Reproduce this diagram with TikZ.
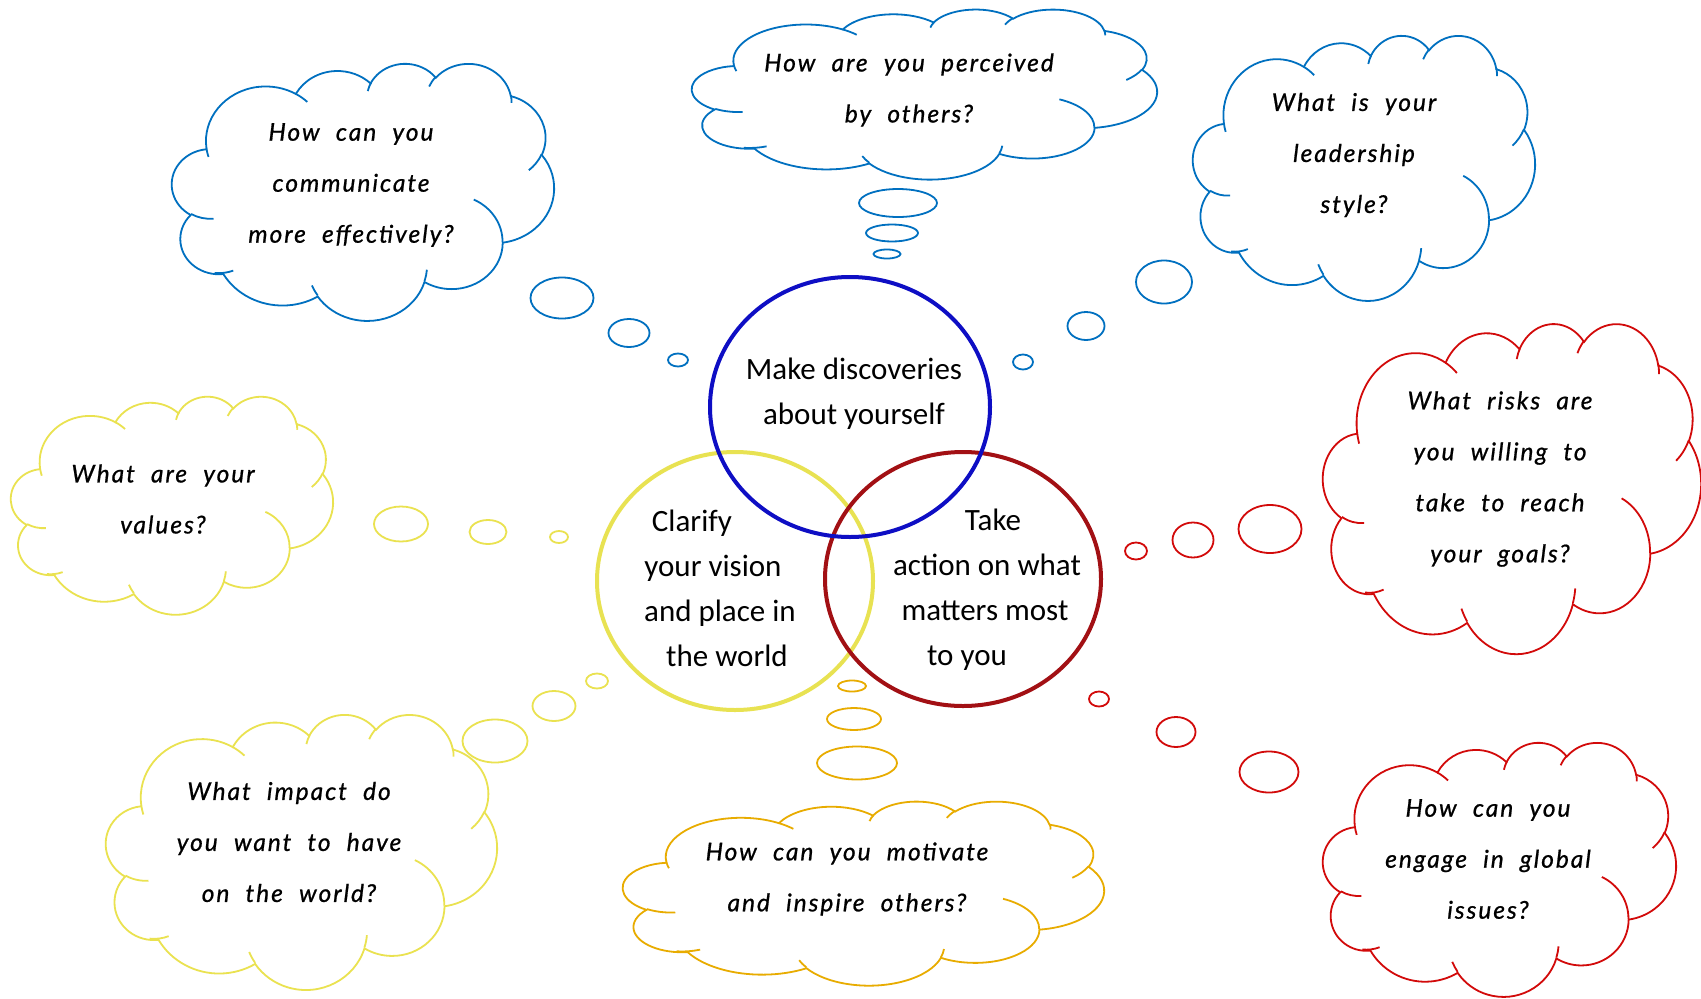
\documentclass[tikz,border=0pt]{standalone}
\usepackage{fontspec}
\setmainfont{Carlito}
\newfontfamily\hand[LetterSpace=8,WordSpace=2.1,FakeBold=0.8]{Lato}
\usetikzlibrary{shapes.geometric}
\definecolor{cblue}{RGB}{0,112,192}
\definecolor{cyel}{RGB}{234,226,80}
\definecolor{corange}{RGB}{232,172,0}
\definecolor{cred}{RGB}{210,10,10}
\definecolor{vblue}{RGB}{14,14,196}
\definecolor{vyel}{RGB}{232,226,82}
\definecolor{vred}{RGB}{162,16,20}
\newcommand\oa[4]{arc[x radius=#1,y radius=#2,start angle={atan2((#1)*sin(#3),(#2)*cos(#3))},delta angle={mod(atan2((#1)*sin((#3)+(#4)),(#2)*cos((#3)+(#4)))-atan2((#1)*sin(#3),(#2)*cos(#3))+720,360)}]}
\newcommand\ocloud[5]{%
\begin{scope}[shift={(#1,#2)},xscale=(#3)/43.2,yscale=(#4)/43.2]
\draw[cloudline,draw=#5,fill=white] (3.9,14.37) \oa{6.753}{9.19}{-190.4875}{123.7805} \oa{5.333}{7.267}{-144.1024}{89.9452} \oa{4.365}{5.945}{-145.8079}{99.723} \oa{4.857}{6.595}{-130.9861}{117.2417} \oa{5.333}{7.273}{-78.7089}{109.0269} \oa{6.775}{9.22}{-46.2673}{130.269} \oa{5.785}{7.867}{0.625}{114.0333} \oa{6.752}{9.215}{22.4516}{115.1726} \oa{7.72}{10.543}{66.2426}{75.711} \oa{4.36}{5.918}{-274.9421}{146.7356} \oa{4.345}{5.945}{-246.8285}{152.5189} -- cycle;
\draw[cloudline,draw=#5] (4.693,26.177) \oa{4.345}{5.945}{86.742}{26.4295} (6.928,34.899) \oa{4.36}{5.918}{73.6105}{21.1829} (16.478,39.09) \oa{6.752}{9.215}{137.6242}{13.7666} (28.827,34.751) \oa{6.752}{9.215}{6.4533}{15.9984} (34.129,22.954) \oa{5.785}{7.867}{-70.2924}{70.9174} (41.798,15.354) \oa{5.333}{7.273}{30.318}{27.7515} (38.324,5.426) \oa{4.857}{6.595}{-13.7443}{14.8589} (29.078,3.952) \oa{4.857}{6.595}{-149.1815}{18.1954} (22.141,4.72) \oa{4.365}{5.945}{-163.4943}{17.6864} (14,5.192) \oa{6.753}{9.19}{-66.707}{12.3194} (4.127,15.789) \oa{6.753}{9.19}{157.6544}{11.8582};
\end{scope}}
\tikzset{
 cloudline/.style={line width=1.8pt},
 qtext/.style={font=\hand\itshape\fontsize{24.5}{51}\selectfont,align=center,inner sep=0pt},
 vtext/.style={font=\fontsize{31}{45}\selectfont,align=center,inner sep=0pt},
 venn/.style={ellipse,line width=4pt,inner sep=0pt},
 bub/.style={ellipse,line width=1.8pt,inner sep=0pt,fill=white},
}
\begin{document}
\begin{tikzpicture}[x=1pt,y=-1pt]
\useasboundingbox (0,0) rectangle (1701,999);
\fill[white] (0,0) rectangle (1701,999);
% clouds
\ocloud{172}{63}{382}{257}{cblue}
\ocloud{692}{9}{465}{170}{cblue}
\ocloud{1193}{35}{342}{265}{cblue}
\ocloud{11}{396}{322}{218}{cyel}
\ocloud{1323}{323}{378}{330}{cred}
\ocloud{106}{714}{391}{275}{cyel}
\ocloud{623}{801}{481}{184}{corange}
\ocloud{1323}{742}{353}{254}{cred}
% bubbles
\node[bub,draw=cblue,minimum width=63pt,minimum height=41pt] (b1a) at (562,298) {};
\node[bub,draw=cblue,minimum width=41pt,minimum height=28pt] (b1b) at (629,333) {};
\node[bub,draw=cblue,minimum width=20pt,minimum height=13pt] (b1c) at (678,360) {};
\node[bub,draw=cblue,minimum width=78pt,minimum height=28pt] (b2a) at (898,203) {};
\node[bub,draw=cblue,minimum width=52pt,minimum height=17pt] (b2b) at (892,233) {};
\node[bub,draw=cblue,minimum width=27pt,minimum height=9pt] (b2c) at (887,254) {};
\node[bub,draw=cblue,minimum width=56pt,minimum height=43pt] (b3a) at (1164,282) {};
\node[bub,draw=cblue,minimum width=37pt,minimum height=28pt] (b3b) at (1086,326) {};
\node[bub,draw=cblue,minimum width=20pt,minimum height=15pt] (b3c) at (1023,362) {};
\node[bub,draw=cyel,minimum width=54pt,minimum height=35pt] (b4a) at (401,524) {};
\node[bub,draw=cyel,minimum width=37pt,minimum height=24pt] (b4b) at (488,532) {};
\node[bub,draw=cyel,minimum width=18pt,minimum height=12pt] (b4c) at (559,537) {};
\node[bub,draw=cred,minimum width=63pt,minimum height=48pt] (b5a) at (1270,529) {};
\node[bub,draw=cred,minimum width=41pt,minimum height=35pt] (b5b) at (1193,540) {};
\node[bub,draw=cred,minimum width=22pt,minimum height=17pt] (b5c) at (1136,551) {};
\node[bub,draw=cyel,minimum width=65pt,minimum height=43pt] (b6a) at (495,741) {};
\node[bub,draw=cyel,minimum width=43pt,minimum height=30pt] (b6b) at (554,706) {};
\node[bub,draw=cyel,minimum width=22pt,minimum height=15pt] (b6c) at (597,681) {};
\node[bub,draw=corange,minimum width=80pt,minimum height=33pt] (b7a) at (857,763) {};
\node[bub,draw=corange,minimum width=54pt,minimum height=22pt] (b7b) at (854,719) {};
\node[bub,draw=corange,minimum width=28pt,minimum height=11pt] (b7c) at (852,686) {};
\node[bub,draw=cred,minimum width=59pt,minimum height=41pt] (b8a) at (1269,772) {};
\node[bub,draw=cred,minimum width=39pt,minimum height=30pt] (b8b) at (1176,732) {};
\node[bub,draw=cred,minimum width=20pt,minimum height=15pt] (b8c) at (1099,699) {};
% venn circles
\node[venn,draw=vyel,minimum width=276pt,minimum height=258pt] (vY) at (735,581) {};
\node[venn,draw=vred,minimum width=276pt,minimum height=254pt] (vR) at (963,579) {};
\node[venn,draw=vblue,minimum width=280pt,minimum height=260pt] (vB) at (850,407) {};
% venn texts
\node[vtext] (tB) at (854,394) {Make discoveries\\about yourself};
\node[vtext] (tY) at (713,588) {\hspace*{-42pt}Clarify\\your vision\\\hspace*{14pt}and place in\\\hspace*{28pt}the world};
\node[vtext] (tR) at (983,590) {\hspace*{20pt}Take\\\hspace*{8pt}action on what\\\hspace*{4pt}matters most\\\hspace*{-32pt}to you};
% cloud texts
\node[qtext] (q1) at (351,185) {How can you\\communicate\\more effectively?};
\node[qtext] (q2) at (909,90) {How are you perceived\\by others?};
\node[qtext] (q3) at (1354,155) {What is your\\leadership\\style?};
\node[qtext] (q4) at (163,499) {What are your\\values?};
\node[qtext] (q5) at (1500,479) {What risks are\\you willing to\\take to reach\\your goals?};
\node[qtext] (q6) at (289,842) {What impact do\\you want to have\\on the world?};
\node[qtext] (q7) at (847,879) {How can you motivate\\and inspire others?};
\node[qtext] (q8) at (1488,859) {How can you\\engage in global\\issues?};
\end{tikzpicture}
\end{document}
